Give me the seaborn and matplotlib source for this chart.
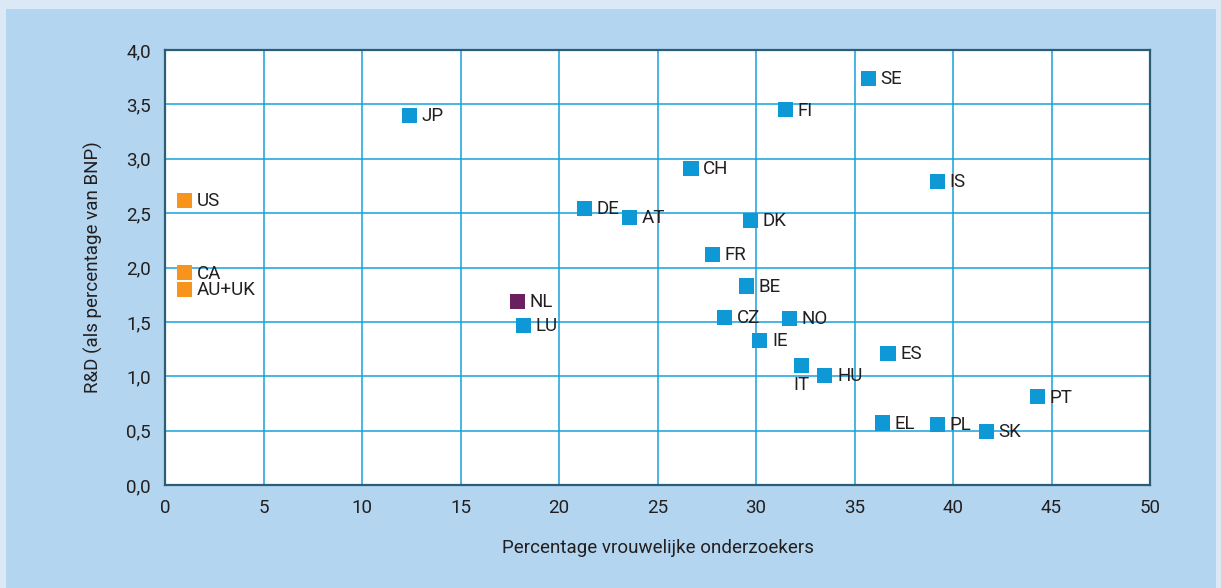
import matplotlib
matplotlib.use("Agg")
import matplotlib.pyplot as plt
import seaborn as sns
import pandas as pd
from matplotlib.patches import Rectangle
from matplotlib import font_manager as fm

countries = ["US", "CA", "AU+UK", "JP", "SE", "FI", "CH", "IS", "DE", "AT", "DK", "FR", "BE",
             "NL", "LU", "CZ", "NO", "IE", "ES", "IT", "HU", "EL", "PL", "SK", "PT"]
women_pct = [1.0, 1.0, 1.0, 12.4, 35.7, 31.5, 26.7, 39.2, 21.3, 23.6, 29.7, 27.8, 29.5,
             17.9, 18.2, 28.4, 31.7, 30.2, 36.7, 32.3, 33.5, 36.4, 39.2, 41.7, 44.3]
rd_gdp = [2.62, 1.95, 1.80, 3.40, 3.74, 3.45, 2.91, 2.79, 2.54, 2.46, 2.43, 2.12, 1.83,
          1.685, 1.47, 1.54, 1.53, 1.33, 1.21, 1.10, 1.01, 0.57, 0.56, 0.49, 0.81]
groups = ["other", "other", "other"] + ["europe"] * 10 + ["nl"] + ["europe"] * 11

x_ticks = [0, 5, 10, 15, 20, 25, 30, 35, 40, 45, 50]
y_ticks = [0.0, 0.5, 1.0, 1.5, 2.0, 2.5, 3.0, 3.5, 4.0]
y_tick_labels = ["0,0", "0,5", "1,0", "1,5", "2,0", "2,5", "3,0", "3,5", "4,0"]

df = pd.DataFrame({"country": countries, "x": women_pct, "y": rd_gdp, "group": groups})

sns.set_theme(style="white")
avail = {f.name for f in fm.fontManager.ttflist}
fams = [f for f in ["Liberation Sans Narrow", "Roboto", "Open Sans", "DejaVu Sans"] if f in avail]
plt.rcParams["font.family"] = fams

W, H = 1221, 588
fig = plt.figure(figsize=(W / 100, H / 100), dpi=100)
fig.patch.set_facecolor("#dbe9f7")
fig.patches.append(Rectangle((6 / W, 0), (1216 - 6) / W, (588 - 9) / H,
                             transform=fig.transFigure, facecolor="#b3d5f0",
                             edgecolor="none", zorder=-10))
ax = fig.add_axes([165 / W, 1 - 485 / H, (1150 - 165) / W, (485 - 50) / H])
ax.set_zorder(5)
ax.set_facecolor("white")

palette = {"other": "#f7941e", "europe": "#0e98d5", "nl": "#6a1f5e"}
sns.scatterplot(data=df, x="x", y="y", hue="group", palette=palette, marker="s",
                s=118, linewidth=0, legend=False, ax=ax, zorder=3)

text_color = "#231f20"
fs = 13.5
for c, xv, yv in zip(countries, women_pct, rd_gdp):
    if c == "IT":
        ax.annotate(c, (xv, yv), xytext=(0, -8), textcoords="offset points",
                    ha="center", va="top", fontsize=fs, color=text_color, zorder=4)
    else:
        ax.annotate(c, (xv, yv), xytext=(8.8, -0.5), textcoords="offset points",
                    ha="left", va="center", fontsize=fs, color=text_color, zorder=4)

ax.set_xlim(0, 50)
ax.set_ylim(0, 4.0)
ax.set_xticks(x_ticks)
ax.set_yticks(y_ticks)
ax.set_yticklabels(y_tick_labels)
grid_color = "#16a0dd"
ax.grid(True, color=grid_color, linewidth=1.1, zorder=1)
ax.set_axisbelow(True)
ax.tick_params(axis="both", which="major", direction="out", length=4, width=1.6,
               color=grid_color, labelsize=fs, labelcolor=text_color, pad=6)
for sp in ax.spines.values():
    sp.set_visible(True)
    sp.set_color("#2b5d76")
    sp.set_linewidth(1.6)

ax.set_xlabel("Percentage vrouwelijke onderzoekers", fontsize=fs, color=text_color, labelpad=16)
ax.set_ylabel("R&D (als percentage van BNP)", fontsize=fs, color=text_color, labelpad=17)

fig.savefig("out.png", dpi=100, facecolor=fig.get_facecolor())
